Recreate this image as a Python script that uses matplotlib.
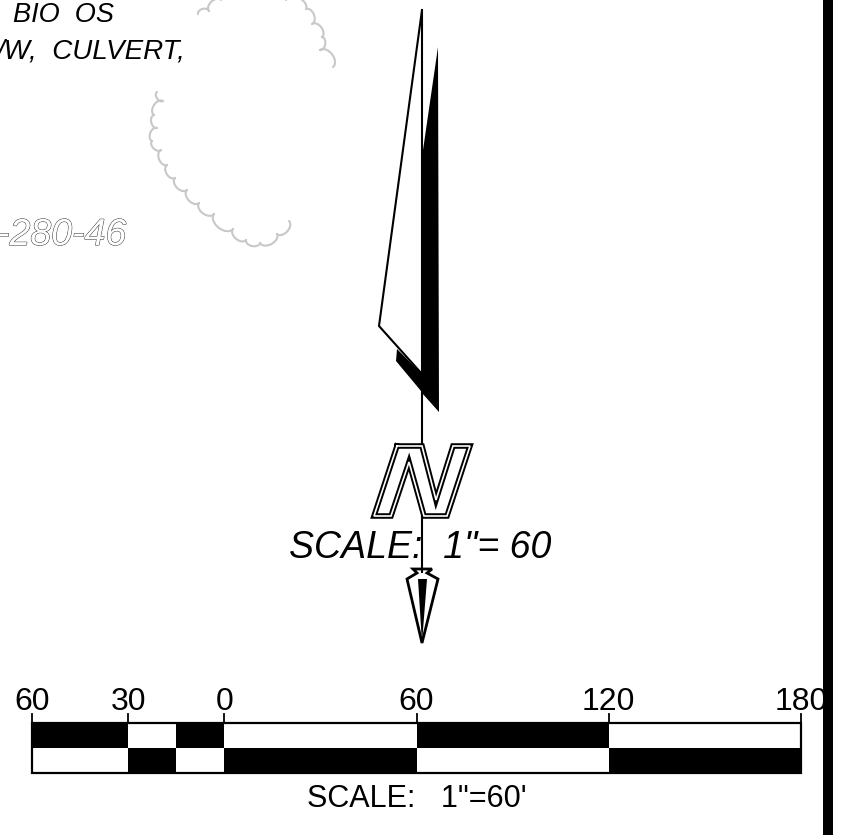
import numpy as np
import matplotlib
matplotlib.use("Agg")
import matplotlib.pyplot as plt
from matplotlib.patches import Polygon, Rectangle
import matplotlib.patheffects as pe

W, H = 848, 835
plt.rcParams['font.family'] = ['Liberation Sans', 'DejaVu Sans']

# scale bar values (feet)
scale_edges = [-60, -30, -15, 0, 60, 120, 180]
top_black = [True, False, True, False, True, False]
tick_values = [-60, -30, 0, 60, 120, 180]
tick_labels = ['60', '30', '0', '60', '120', '180']

# north arrow geometry (image pixels)
flag = [(422, 10), (379, 326), (422, 374)]
blade = [(438, 47), (439, 412), (422, 393), (422, 157)]
shadow = [(397, 349), (396, 361), (421, 391), (421, 373)]
n_shape = [(397, 446), (422, 446), (436, 500), (453, 446), (470, 446),
           (447, 516), (424, 516), (409, 462), (391, 516), (374, 516)]
head_outline = [(422, 643), (407, 579), (417, 573), (413, 569), (432, 569), (427, 573), (438, 579)]
head_core = [(418, 579), (427, 579), (422, 643)]

# revision cloud cusps (image pixels)
cloud_a = [(157, 92), (163, 101), (154, 115), (157, 128), (152, 141), (161, 150), (167, 165),
           (175, 178), (187, 190), (199, 203), (214, 214), (233, 229), (246, 240), (260, 243),
           (277, 234), (289, 221)]
cloud_b = [(198, 14), (209, 11), (221, 0)]
cloud_c = [(286, 0), (306, 9), (312, 24), (322, 37), (320, 50), (333, 67)]

fig = plt.figure(figsize=(W / 100, H / 100), dpi=100)
ax = fig.add_axes([0, 0, 1, 1])
ax.set_xlim(0, W)
ax.set_ylim(H, 0)
ax.axis('off')

def scallop(ax, pts, side=1):
    for (x0, y0), (x1, y1) in zip(pts[:-1], pts[1:]):
        t = np.linspace(0, np.pi, 24)
        mx, my = (x0 + x1) / 2, (y0 + y1) / 2
        dx, dy = (x1 - x0) / 2, (y1 - y0) / 2
        xs = mx - dx * np.cos(t) + side * dy * np.sin(t) * 0.65
        ys = my - dy * np.cos(t) - side * dx * np.sin(t) * 0.65
        ax.plot(xs, ys, color='#c8c8c8', lw=1.5, solid_capstyle='round')

scallop(ax, cloud_a, side=-1)
scallop(ax, cloud_b, side=1)
scallop(ax, cloud_c, side=1)

# border
ax.add_patch(Rectangle((823, 0), 9.5, H, fc='black', ec='none'))

# north arrow
ax.add_patch(Polygon(flag, closed=False, fc='white', ec='black', lw=1.5, joinstyle='miter'))
ax.add_patch(Polygon(blade, closed=True, fc='black', ec='none'))
ax.add_patch(Polygon(shadow, closed=True, fc='black', ec='none'))
ax.plot([422, 422], [10, 445], color='black', lw=1.5)
ax.plot([422, 422], [515, 572], color='black', lw=1.5)

nx = [p[0] for p in n_shape] + [n_shape[0][0]]
ny = [p[1] for p in n_shape] + [n_shape[0][1]]
ax.plot(nx, ny, color='black', lw=4.0, solid_joinstyle='miter')
ax.plot(nx, ny, color='white', lw=1.2, solid_joinstyle='miter')

ax.add_patch(Polygon(head_outline, closed=True, fc='white', ec='black', lw=2.0, joinstyle='miter'))
ax.add_patch(Polygon(head_core, closed=True, fc='black', ec='none'))

# text
ax.text(13, 15, 'BIO  OS', style='italic', fontsize=19.5, va='center', ha='left')
ax.text(-3, 52, '/W,  CULVERT,', style='italic', fontsize=20, va='center', ha='left')
ax.text(-3, 235, '-280-46', style='italic', fontsize=27, va='center', ha='left', color='white',
        path_effects=[pe.withStroke(linewidth=0.7, foreground='#333333')])
ax.text(289, 548, 'SCALE:  1"= 60', style='italic', fontsize=27, va='center', ha='left')
ax.text(417, 799, 'SCALE:   1"=60\'', fontsize=22, va='center', ha='center')

# scale bar in its own feet axis
sx = fig.add_axes([32 / W, 1 - 773 / H, (801 - 32) / W, (773 - 723) / H])
sx.set_xlim(-60, 180)
sx.set_ylim(0, 2)
sx.axis('off')
for i, (a, b) in enumerate(zip(scale_edges[:-1], scale_edges[1:])):
    sx.add_patch(Rectangle((a, 1), b - a, 1, fc='black' if top_black[i] else 'white', ec='none'))
    sx.add_patch(Rectangle((a, 0), b - a, 1, fc='white' if top_black[i] else 'black', ec='none'))
sx.add_patch(Rectangle((-60, 0), 240, 2, fc='none', ec='black', lw=1.6, clip_on=False))
for v, lab in zip(tick_values, tick_labels):
    sx.plot([v, v], [2, 2.36], color='black', lw=1.3, clip_on=False)
    sx.text(v, 2.86, lab, ha='center', va='center', fontsize=23, clip_on=False)

fig.savefig('out.png', dpi=100)
